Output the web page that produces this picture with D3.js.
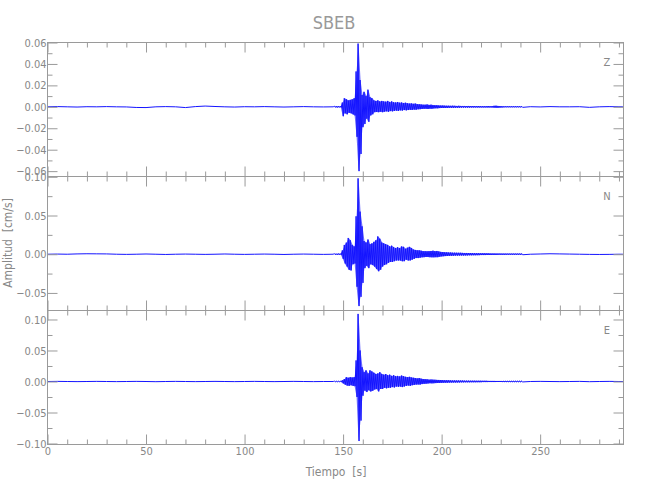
<!DOCTYPE html>
<html><head><meta charset="utf-8">
<script src="https://cdn.jsdelivr.net/npm/d3@7"></script>
<style>
body{margin:0;background:#fff}
text{font-family:"DejaVu Sans Condensed","DejaVu Sans",sans-serif}
</style>
</head><body>
<svg id="chart" width="650" height="500"></svg>
<script>
// ---------------- data ----------------
const title = "SBEB";
const components = ["Z", "N", "E"];
const xLabel = "Tiempo  [s]";
const yLabel = "Amplitud  [cm/s]";
const xMajorTicks = [0, 50, 100, 150, 200, 250];
const xMinorTicks = [10,20,30,40,60,70,80,90,110,120,130,140,160,170,180,190,210,220,230,240,260,270,280,290];
const xDomain = [0, 292.3];
const yDomains = [[-0.065, 0.06], [-0.0727, 0.1004], [-0.1016, 0.1145]];
const yMajorTicks = [
  [-0.06, -0.04, -0.02, 0, 0.02, 0.04, 0.06],
  [-0.05, 0, 0.05, 0.10],
  [-0.10, -0.05, 0, 0.05, 0.10]
];
const yMinorTicks = [
  [-0.05, -0.03, -0.01, 0.01, 0.03, 0.05],
  [-0.025, 0.025, 0.075],
  [-0.075, -0.025, 0.025, 0.075]
];

// quiet (pre / post event) samples, seconds
const quietPreTimes = [0,5,10,15,20,25,30,35,40,45,50,55,60,65,70,75,80,85,90,95,100,105,110,115,120,125,130,135,140,145];
const quietPostTimes = [245,250,255,260,265,270,275,280,285,290,292];
// burst: one max and one min per second, starting at burstStart
const burstStart = 145.6;

const zQuietPre = [0,0.0002,0,-0.0002,0.0001,0,0.0002,0,-0.0001,-0.0006,-0.0007,0,0.0002,0,-0.0007,0.0002,0.0007,0.0003,0,-0.0002,0.0001,0,0.0002,0,-0.0002,0,0.0002,0,-0.0001,0];
const zQuietPost = [0.0001,-0.0001,0.0002,0,0,0.0001,-0.0005,0,0.0002,0,0];
const zUpper = [
  0.0006,0.0005,0.0006,0.0005,0.0040,0.0080,0.0070,0.0060,0.0065,0.0070,
  0.0080,0.0330,0.0590,0.0250,0.0110,0.0140,0.0100,0.0160,0.0090,0.0080,
  0.0060,0.0055,0.0060,0.0050,0.0055,0.0050,0.0048,0.0055,0.0045,0.0050,
  0.0042,0.0040,0.0045,0.0038,0.0040,0.0035,0.0038,0.0033,0.0030,0.0032,
  0.0028,0.0030,0.0025,0.0024,0.0022,0.0020,0.0020,0.0022,0.0018,0.0020,
  0.0016,0.0015,0.0015,0.0013,0.0012,0.0012,0.0011,0.0010,0.0010,0.0009,
  0.0010,0.0009,0.0008,0.0009,0.0008,0.0008,0.0008,0.0007,0.0008,0.0007,
  0.0007,0.0007,0.0006,0.0007,0.0006,0.0006,0.0006,0.0006,0.0007,0.0006,
  0.0007,0.0009,0.0010,0.0008,0.0007,0.0006,0.0005,0.0005,0.0005,0.0005,
  0.0005,0.0005,0.0005,0.0005,0.0005,0.0005];
const zLower = [
  -0.0005,-0.0006,-0.0005,-0.0006,-0.0088,-0.0060,-0.0070,-0.0055,-0.0060,-0.0070,
  -0.0080,-0.0280,-0.0600,-0.0440,-0.0190,-0.0160,-0.0110,-0.0140,-0.0080,-0.0070,
  -0.0050,-0.0048,-0.0050,-0.0045,-0.0050,-0.0045,-0.0042,-0.0046,-0.0040,-0.0042,
  -0.0038,-0.0035,-0.0038,-0.0033,-0.0035,-0.0030,-0.0033,-0.0030,-0.0028,-0.0029,
  -0.0026,-0.0027,-0.0023,-0.0022,-0.0020,-0.0019,-0.0018,-0.0020,-0.0017,-0.0018,
  -0.0015,-0.0014,-0.0014,-0.0012,-0.0011,-0.0011,-0.0010,-0.0010,-0.0009,-0.0009,
  -0.0009,-0.0008,-0.0008,-0.0008,-0.0007,-0.0007,-0.0007,-0.0007,-0.0007,-0.0006,
  -0.0006,-0.0006,-0.0006,-0.0006,-0.0006,-0.0006,-0.0006,-0.0006,-0.0006,-0.0006,
  -0.0007,-0.0008,-0.0009,-0.0008,-0.0007,-0.0006,-0.0005,-0.0005,-0.0005,-0.0005,
  -0.0005,-0.0005,-0.0005,-0.0005,-0.0005,-0.0005];

const nQuietPre = [0,0.0002,0,0.0004,0.0006,0.0005,0.0004,0,-0.0002,0,0.0003,0,-0.0003,0,0.0002,0,-0.0002,0,0.0003,0,-0.0002,0,0.0002,0,-0.0003,0,0.0002,0,-0.0002,0];
const nQuietPost = [0,0.0003,0.0006,0.0004,0.0002,0,-0.0002,-0.0003,-0.0002,0,0];
const nUpper = [
  0.0008,0.0006,0.0008,0.0007,0.0050,0.0120,0.0150,0.0210,0.0180,0.0120,
  0.0100,0.0490,0.0980,0.0550,0.0360,0.0170,0.0150,0.0190,0.0130,0.0140,
  0.0160,0.0180,0.0230,0.0200,0.0150,0.0140,0.0130,0.0120,0.0100,0.0110,
  0.0090,0.0080,0.0090,0.0080,0.0100,0.0095,0.0070,0.0085,0.0095,0.0080,
  0.0060,0.0055,0.0050,0.0050,0.0045,0.0040,0.0040,0.0038,0.0040,0.0042,
  0.0045,0.0040,0.0042,0.0035,0.0030,0.0028,0.0025,0.0024,0.0022,0.0022,
  0.0020,0.0020,0.0019,0.0018,0.0018,0.0017,0.0016,0.0016,0.0015,0.0015,
  0.0014,0.0014,0.0013,0.0013,0.0012,0.0012,0.0012,0.0011,0.0011,0.0010,
  0.0010,0.0010,0.0009,0.0009,0.0009,0.0008,0.0008,0.0008,0.0008,0.0008,
  0.0008,0.0008,0.0008,0.0008,0.0008,0.0008];
const nLower = [
  -0.0007,-0.0008,-0.0006,-0.0008,-0.0060,-0.0120,-0.0160,-0.0200,-0.0210,-0.0130,
  -0.0120,-0.0420,-0.0670,-0.0550,-0.0370,-0.0180,-0.0150,-0.0180,-0.0130,-0.0140,
  -0.0160,-0.0190,-0.0220,-0.0200,-0.0160,-0.0140,-0.0130,-0.0110,-0.0100,-0.0100,
  -0.0090,-0.0080,-0.0080,-0.0080,-0.0090,-0.0090,-0.0070,-0.0080,-0.0080,-0.0070,
  -0.0060,-0.0050,-0.0050,-0.0045,-0.0040,-0.0038,-0.0036,-0.0036,-0.0038,-0.0040,
  -0.0040,-0.0038,-0.0038,-0.0032,-0.0028,-0.0026,-0.0024,-0.0022,-0.0021,-0.0020,
  -0.0019,-0.0018,-0.0018,-0.0017,-0.0016,-0.0016,-0.0015,-0.0015,-0.0014,-0.0014,
  -0.0013,-0.0013,-0.0012,-0.0012,-0.0011,-0.0011,-0.0011,-0.0010,-0.0010,-0.0010,
  -0.0009,-0.0009,-0.0009,-0.0008,-0.0008,-0.0008,-0.0008,-0.0007,-0.0007,-0.0007,
  -0.0007,-0.0007,-0.0007,-0.0007,-0.0007,-0.0007];

const eQuietPre = [0,0.0002,0,-0.0002,0,0.0002,0,-0.0002,0,0.0002,0,-0.0003,0,0.0002,0,-0.0002,0,0.0002,0,-0.0002,0,0.0002,0,-0.0002,0,0.0002,0,-0.0002,0,0];
const eQuietPost = [0,0.0002,0,-0.0002,0,0.0002,-0.0003,0,0.0002,0,0];
const eUpper = [
  0.0006,0.0005,0.0006,0.0005,0.0020,0.0040,0.0070,0.0060,0.0070,0.0065,
  0.0070,0.0340,0.1090,0.0500,0.0230,0.0150,0.0180,0.0130,0.0180,0.0160,
  0.0140,0.0120,0.0130,0.0150,0.0120,0.0110,0.0120,0.0100,0.0110,0.0090,
  0.0100,0.0085,0.0090,0.0080,0.0095,0.0085,0.0075,0.0070,0.0075,0.0065,
  0.0060,0.0055,0.0050,0.0055,0.0045,0.0040,0.0038,0.0035,0.0030,0.0032,
  0.0030,0.0028,0.0026,0.0025,0.0024,0.0022,0.0020,0.0020,0.0019,0.0018,
  0.0017,0.0017,0.0016,0.0016,0.0015,0.0015,0.0014,0.0014,0.0014,0.0013,
  0.0013,0.0013,0.0012,0.0012,0.0012,0.0011,0.0011,0.0011,0.0010,0.0010,
  0.0010,0.0010,0.0009,0.0009,0.0009,0.0008,0.0008,0.0008,0.0008,0.0008,
  0.0008,0.0008,0.0008,0.0008,0.0008,0.0008];
const eLower = [
  -0.0005,-0.0006,-0.0005,-0.0006,-0.0030,-0.0050,-0.0065,-0.0070,-0.0060,-0.0070,
  -0.0075,-0.0250,-0.0960,-0.0630,-0.0230,-0.0145,-0.0170,-0.0140,-0.0160,-0.0150,
  -0.0130,-0.0120,-0.0160,-0.0120,-0.0120,-0.0100,-0.0110,-0.0100,-0.0100,-0.0090,
  -0.0095,-0.0080,-0.0085,-0.0080,-0.0090,-0.0080,-0.0070,-0.0065,-0.0070,-0.0060,
  -0.0055,-0.0050,-0.0048,-0.0050,-0.0042,-0.0038,-0.0035,-0.0032,-0.0028,-0.0030,
  -0.0028,-0.0026,-0.0024,-0.0023,-0.0022,-0.0020,-0.0019,-0.0019,-0.0018,-0.0017,
  -0.0016,-0.0016,-0.0015,-0.0015,-0.0014,-0.0014,-0.0013,-0.0013,-0.0013,-0.0012,
  -0.0012,-0.0012,-0.0011,-0.0011,-0.0011,-0.0010,-0.0010,-0.0010,-0.0009,-0.0009,
  -0.0009,-0.0009,-0.0008,-0.0008,-0.0008,-0.0007,-0.0007,-0.0007,-0.0007,-0.0007,
  -0.0007,-0.0007,-0.0007,-0.0007,-0.0007,-0.0007];

const traces = [
  {pre: zQuietPre, post: zQuietPost, upper: zUpper, lower: zLower},
  {pre: nQuietPre, post: nQuietPost, upper: nUpper, lower: nLower},
  {pre: eQuietPre, post: eQuietPost, upper: eUpper, lower: eLower}
];

// ---------------- layout ----------------
const svg = d3.select("#chart");
const left = 47.5, right = 623.5;
const panelTops = [42.5, 176.5, 310.5];
const panelBottoms = [176.5, 310.5, 444.5];
const axisColor = "#9a9a9a", textColor = "#888888";

const x = d3.scaleLinear().domain(xDomain).range([left, right]);

svg.append("text").attr("x", 334).attr("y", 29).attr("text-anchor", "middle")
  .attr("font-size", 18).attr("fill", "#999").text(title);

traces.forEach((tr, i) => {
  const top = panelTops[i], bot = panelBottoms[i];
  const y = d3.scaleLinear().domain(yDomains[i]).range([bot, top]);
  const g = svg.append("g");

  svg.append("clipPath").attr("id", "clip" + i).append("rect")
    .attr("x", left).attr("y", top).attr("width", right - left).attr("height", bot - top);

  const pts = [];
  quietPreTimes.forEach((t, k) => pts.push([t, tr.pre[k]]));
  tr.upper.forEach((v, k) => {
    pts.push([burstStart + k, v]);
    pts.push([burstStart + k + 0.5, tr.lower[k]]);
  });
  quietPostTimes.forEach((t, k) => pts.push([t, tr.post[k]]));

  // envelope fill of the dense oscillation
  const env = tr.upper.map((v, k) => ({t: burstStart + k + 0.25, hi: v, lo: tr.lower[k]}));
  const area = d3.area().x(d => x(d.t)).y0(d => y(d.lo)).y1(d => y(d.hi)).curve(d3.curveLinear);
  g.append("path").datum(env).attr("clip-path", `url(#clip${i})`)
    .attr("d", area).attr("fill", "#2a2aff").attr("fill-opacity", 0.7);

  const line = d3.line().x(d => x(d[0])).y(d => y(d[1]));
  g.append("path").datum(pts).attr("clip-path", `url(#clip${i})`)
    .attr("d", line).attr("fill", "none").attr("stroke", "#1414ff")
    .attr("stroke-width", 1.0).attr("stroke-linejoin", "round");

  const styleAxis = sel => {
    sel.select(".domain").remove();
    sel.selectAll(".tick line").attr("stroke", axisColor);
    sel.selectAll(".tick text").attr("fill", textColor).attr("font-size", 11)
      .attr("font-family", '"DejaVu Sans Condensed","DejaVu Sans",sans-serif');
  };

  g.append("g").attr("transform", `translate(0,${bot})`)
    .call(d3.axisBottom(x).tickValues(xMajorTicks).tickSize(-10).tickPadding(3)
      .tickFormat(i === 2 ? d3.format("d") : () => ""))
    .call(styleAxis);
  g.append("g").attr("transform", `translate(0,${bot})`)
    .call(d3.axisBottom(x).tickValues(xMinorTicks).tickSize(-5).tickFormat(() => ""))
    .call(styleAxis);
  g.append("g").attr("transform", `translate(0,${top})`)
    .call(d3.axisTop(x).tickValues(xMajorTicks).tickSize(-10).tickFormat(() => ""))
    .call(styleAxis);
  g.append("g").attr("transform", `translate(0,${top})`)
    .call(d3.axisTop(x).tickValues(xMinorTicks).tickSize(-5).tickFormat(() => ""))
    .call(styleAxis);

  g.append("g").attr("transform", `translate(${left},0)`)
    .call(d3.axisLeft(y).tickValues(yMajorTicks[i]).tickSize(-10).tickPadding(1)
      .tickFormat(d3.format(".2f")))
    .call(styleAxis);
  g.append("g").attr("transform", `translate(${left},0)`)
    .call(d3.axisLeft(y).tickValues(yMinorTicks[i]).tickSize(-5).tickFormat(() => ""))
    .call(styleAxis);
  g.append("g").attr("transform", `translate(${right},0)`)
    .call(d3.axisRight(y).tickValues(yMajorTicks[i]).tickSize(-10).tickFormat(() => ""))
    .call(styleAxis);
  g.append("g").attr("transform", `translate(${right},0)`)
    .call(d3.axisRight(y).tickValues(yMinorTicks[i]).tickSize(-5).tickFormat(() => ""))
    .call(styleAxis);

  g.append("rect").attr("x", left).attr("y", top).attr("width", right - left)
    .attr("height", bot - top).attr("fill", "none").attr("stroke", axisColor);

  g.append("text").attr("x", 607).attr("y", top + 23).attr("text-anchor", "middle")
    .attr("font-size", 11).attr("fill", textColor).text(components[i]);
});

svg.append("text").attr("x", 336).attr("y", 476).attr("text-anchor", "middle")
  .attr("font-size", 12).attr("fill", textColor).style("white-space", "pre").text(xLabel);
svg.append("text").attr("transform", "translate(12,243) rotate(-90)").attr("text-anchor", "middle")
  .attr("font-size", 12).attr("fill", textColor).style("white-space", "pre").text(yLabel);
</script>
</body></html>
